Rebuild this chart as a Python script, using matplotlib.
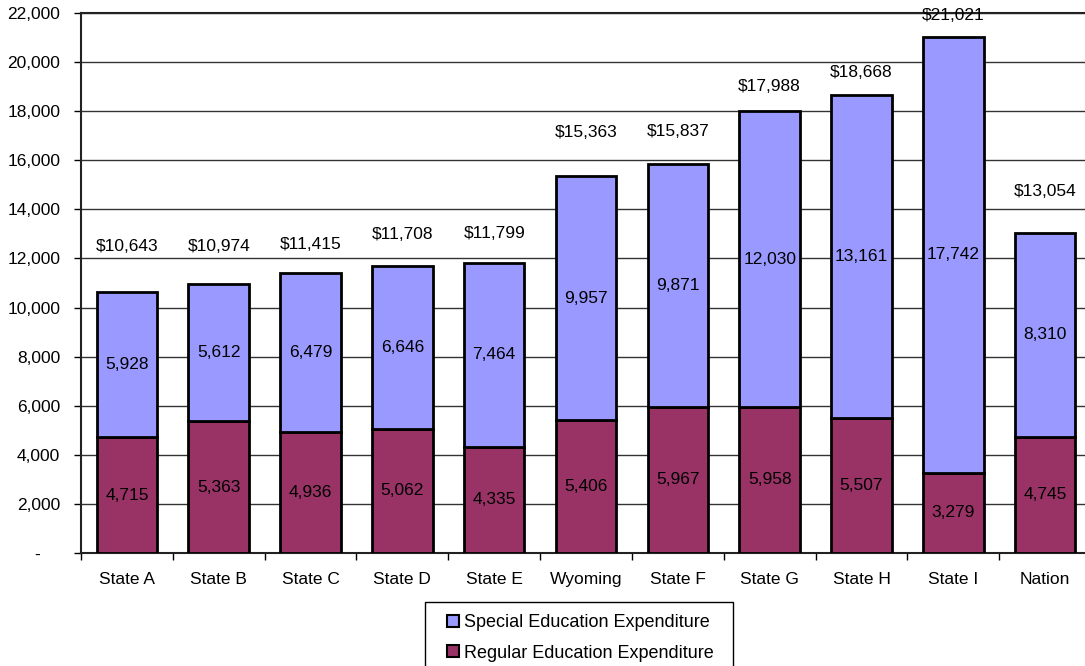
# -*- coding: utf-8 -*-
# per-pupil expenditure by state, stacked regular + special education
import numpy as np
import matplotlib
matplotlib.use("Agg")
import matplotlib.pyplot as plt
from matplotlib.ticker import FixedLocator, FuncFormatter
from matplotlib.patches import Patch, Rectangle

# ---------- data ----------
states = ["State A", "State B", "State C", "State D", "State E", "Wyoming",
          "State F", "State G", "State H", "State I", "Nation"]
regular = [4715, 5363, 4936, 5062, 4335, 5406, 5967, 5958, 5507, 3279, 4745]
special = [5928, 5612, 6479, 6646, 7464, 9957, 9871, 12030, 13161, 17742, 8310]
totals = [10643, 10974, 11415, 11708, 11799, 15363, 15837, 17988, 18668, 21021, 13054]

# gap (px) between bar top and the total label
label_gap = [45, 37, 28, 31, 30, 43, 33, 25, 22, 22, 41]

REG_COLOR = "#993366"
SPE_COLOR = "#9999FF"
FS = 12.5

plt.rcParams['font.family'] = ['Liberation Sans', 'DejaVu Sans']
plt.rcParams['font.size'] = FS

fig = plt.figure(figsize=(10.85, 6.66), dpi=100)
ax = fig.add_axes([81 / 1085, 1 - 553 / 666, 1010 / 1085, 540 / 666])

x = np.arange(len(states))
w = 0.66
ax.bar(x, regular, w, color=REG_COLOR, edgecolor="black", linewidth=2, zorder=3)
ax.bar(x, special, w, bottom=regular, color=SPE_COLOR, edgecolor="black",
       linewidth=2, zorder=3)

# values inside each segment
for i in range(len(states)):
    ax.text(x[i], regular[i] / 2, f"{regular[i]:,}", ha="center", va="center",
            fontsize=FS, zorder=4)
    ax.text(x[i], regular[i] + special[i] / 2, f"{special[i]:,}", ha="center",
            va="center", fontsize=FS, zorder=4)
    ax.annotate(f"${totals[i]:,}", (x[i], totals[i]), xytext=(0, label_gap[i]),
                textcoords="offset pixels", ha="center", va="center",
                fontsize=FS, zorder=4, annotation_clip=False)

# axes
ax.set_xlim(-0.5, len(states) - 0.5)
ax.set_ylim(0, 22000)
ax.yaxis.set_major_locator(FixedLocator(np.arange(0, 22001, 2000)))
ax.yaxis.set_major_formatter(FuncFormatter(lambda v, p: "-    " if v == 0 else f"{int(v):,}"))
ax.set_xticks(x)
ax.set_xticklabels(states)
ax.set_xticks(np.arange(-0.5, len(states)), minor=True)
ax.tick_params(axis="x", which="major", length=0, pad=14)
ax.tick_params(axis="x", which="minor", length=5, width=1, direction="out")
ax.tick_params(axis="y", length=5, width=1, direction="out", pad=10)

ax.yaxis.grid(True, color="#333333", linewidth=1)
ax.set_axisbelow(True)
for s in ["left", "bottom", "top"]:
    ax.spines[s].set_linewidth(1.5)
    ax.spines[s].set_color("#222222")
ax.spines["right"].set_visible(False)

# legend below the plot, box drawn separately
handles = [Patch(facecolor=SPE_COLOR, edgecolor="black", linewidth=1.5),
           Patch(facecolor=REG_COLOR, edgecolor="black", linewidth=1.5)]
leg = fig.legend(handles, ["Special Education Expenditure", "Regular Education Expenditure"],
                 loc="upper left", bbox_to_anchor=(447 / 1085, 1 - 614 / 666),
                 frameon=False, fontsize=13,
                 handlelength=0.67, handleheight=0.67, handletextpad=0.25,
                 labelspacing=0.75, borderpad=0, borderaxespad=0)
fig.patches.append(Rectangle((425 / 1085, -0.02), 308 / 1085, 0.02 + 64 / 666,
                             transform=fig.transFigure, fill=False,
                             edgecolor="black", linewidth=1))

fig.savefig("out.png", dpi=100)
